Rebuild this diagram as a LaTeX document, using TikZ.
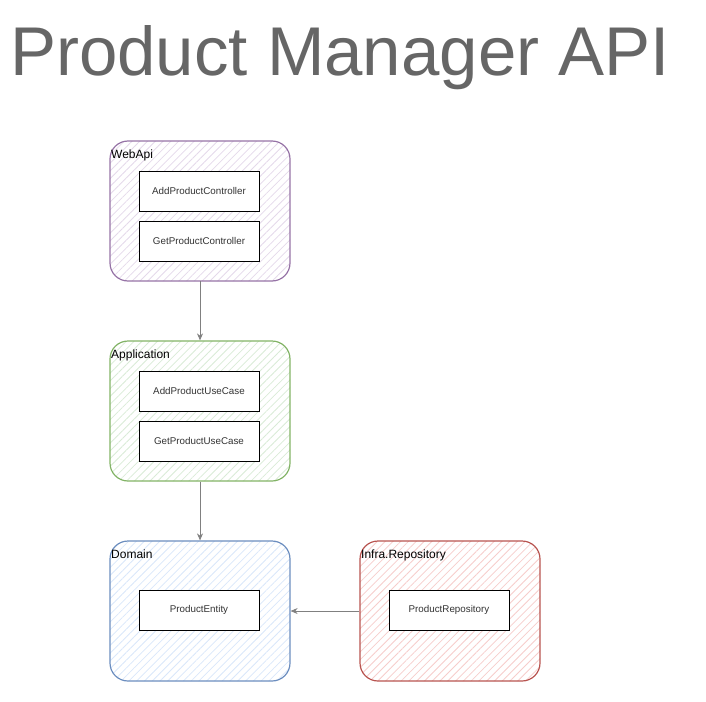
\documentclass[tikz,border=0pt]{standalone}
\usepackage{fontspec}
\setmainfont{Liberation Sans}
\usetikzlibrary{arrows.meta,patterns.meta}
\definecolor{titlegray}{HTML}{666666}
\definecolor{arrowgray}{HTML}{808080}
\definecolor{purpS}{HTML}{9673A6}\definecolor{purpF}{HTML}{E4D9EA}
\definecolor{greenS}{HTML}{82B366}\definecolor{greenF}{HTML}{D9EBD6}
\definecolor{blueS}{HTML}{6C8EBF}\definecolor{blueF}{HTML}{D9E7FA}
\definecolor{redS}{HTML}{B85450}\definecolor{redF}{HTML}{F6CDCB}
\tikzset{
  layer/.style n args={2}{draw=#1, line width=1.2pt, rounded corners=18pt,
    pattern={Lines[angle=45,distance=5.5pt,line width=0.8pt]}, pattern color=#2,
    minimum width=180pt, minimum height=140pt, inner sep=0pt},
  comp/.style={draw=black, line width=1pt, fill=white, minimum width=120pt,
    minimum height=40pt, inner sep=0pt, font=\fontsize{9.8}{11}\selectfont, text=black!80},
  lbl/.style={anchor=base west, inner sep=0pt, font=\fontsize{12}{14}\selectfont},
  conn/.style={draw=arrowgray, line width=0.8pt, -{Stealth[length=7pt,width=6pt]}}
}
\begin{document}
\begin{tikzpicture}[x=1pt,y=-1pt]
\useasboundingbox (0,0) rectangle (706,701);
\node[anchor=base west, inner sep=0pt, text=titlegray, font=\fontsize{69}{80}\selectfont] (title) at (10,75) {Product Manager API};

\node[layer={purpS}{purpF}] (web) at (200,211) {};
\node[layer={greenS}{greenF}] (app) at (200,411) {};
\node[layer={blueS}{blueF}] (dom) at (200,611) {};
\node[layer={redS}{redF}] (infra) at (450,611) {};

\node[lbl] (webl) at (111,158) {WebApi};
\node[lbl] (appl) at (111,358) {Application};
\node[lbl] (doml) at (111,558) {Domain};
\node[lbl] (infral) at (361,558) {Infra.Repository};

\node[comp] (c1) at (199,191) {AddProductController};
\node[comp] (c2) at (199,241) {GetProductController};
\node[comp] (u1) at (199,391) {AddProductUseCase};
\node[comp] (u2) at (199,441) {GetProductUseCase};
\node[comp] (ent) at (199,610) {ProductEntity};
\node[comp] (repo) at (449,610) {ProductRepository};

\draw[conn] (web.south) -- (app.north);
\draw[conn] (app.south) -- (dom.north);
\draw[conn] (infra.west) -- (dom.east);
\end{tikzpicture}
\end{document}
